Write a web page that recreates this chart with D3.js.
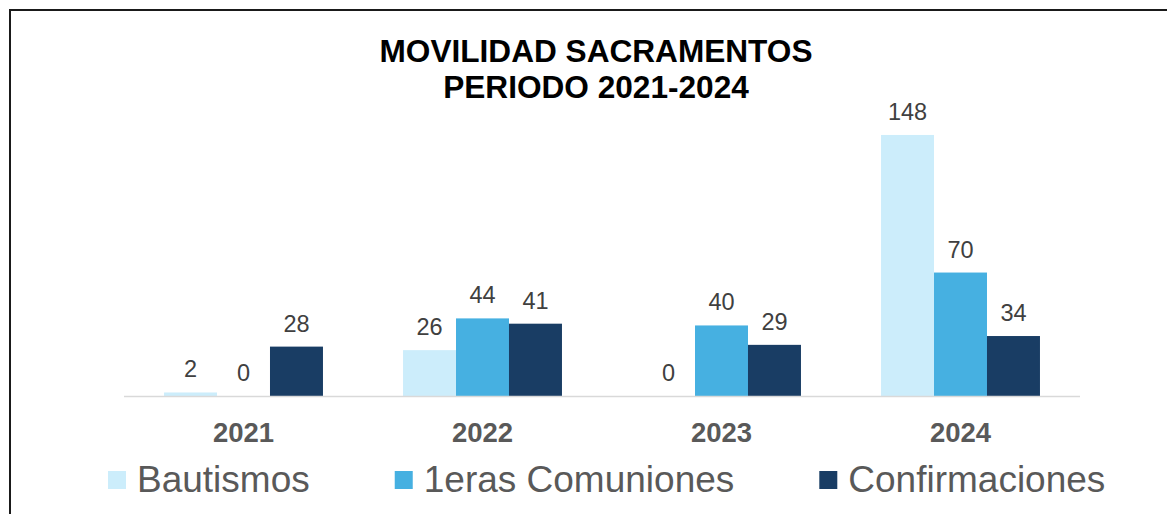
<!DOCTYPE html>
<html>
<head>
<meta charset="utf-8">
<script src="https://cdn.jsdelivr.net/npm/d3@7"></script>
<style>
  body { margin: 0; background: #fff; }
  svg { display: block; font-family: "Liberation Sans", Arial, sans-serif; }
</style>
</head>
<body>
<div id="chart"></div>
<script>
// data
const years = ["2021", "2022", "2023", "2024"];
const seriesNames = ["Bautismos", "1eras Comuniones", "Confirmaciones"];
const bautismos = [2, 26, 0, 148];
const comuniones = [0, 44, 40, 70];
const confirmaciones = [28, 41, 29, 34];
const seriesColors = ["#ccedfb", "#46b0e1", "#193d64"];
const titleLines = ["MOVILIDAD SACRAMENTOS", "PERIODO 2021-2024"];

const width = 1167, height = 514;
const margin = {top: 114, right: 87, bottom: 118, left: 124};

const svg = d3.select("#chart").append("svg")
    .attr("width", width)
    .attr("height", height);

// frame (only left and top edges show in the crop)
svg.append("path")
    .attr("d", `M10,${height} L10,10 L${width},10`)
    .attr("fill", "none")
    .attr("stroke", "#1a1a1a")
    .attr("stroke-width", 2);

// title
svg.append("text")
    .attr("x", 597)
    .attr("y", 62)
    .attr("text-anchor", "middle")
    .style("font-size", "31.6px")
    .style("font-weight", "bold")
    .attr("fill", "#000")
    .selectAll("tspan")
    .data(titleLines)
    .enter().append("tspan")
    .attr("x", 596)
    .attr("dy", (d, i) => i === 0 ? 0 : 36)
    .text(d => d);

const x0 = d3.scaleBand()
    .domain(years)
    .range([margin.left, width - margin.right])
    .paddingInner(0.335)
    .paddingOuter(0.1675);

const x1 = d3.scaleBand()
    .domain(seriesNames)
    .range([0, x0.bandwidth()])
    .padding(0);

const y = d3.scaleLinear()
    .domain([0, 160])
    .range([height - margin.bottom, height - margin.bottom - 282.2]);

const rows = years.map((yr, i) => ({
    year: yr,
    values: [bautismos[i], comuniones[i], confirmaciones[i]]
}));

// bars
const groups = svg.append("g")
    .selectAll("g")
    .data(rows)
    .enter().append("g")
    .attr("transform", d => `translate(${x0(d.year)},0)`);

groups.selectAll("rect")
    .data(d => d.values.map((v, j) => ({name: seriesNames[j], value: v, color: seriesColors[j]})))
    .enter().append("rect")
    .attr("x", d => x1(d.name))
    .attr("y", d => y(d.value))
    .attr("width", x1.bandwidth())
    .attr("height", d => y(0) - y(d.value))
    .attr("fill", d => d.color);

// value labels
groups.selectAll("text")
    .data(d => d.values.map((v, j) => ({name: seriesNames[j], value: v})))
    .enter().append("text")
    .attr("x", d => x1(d.name) + x1.bandwidth() / 2)
    .attr("y", d => y(d.value) - 15)
    .attr("text-anchor", "middle")
    .style("font-size", "23.5px")
    .attr("fill", "#404040")
    .text(d => d.value);

// baseline axis
svg.append("line")
    .attr("x1", margin.left)
    .attr("x2", width - margin.right)
    .attr("y1", y(0) + 0.5)
    .attr("y2", y(0) + 0.5)
    .attr("stroke", "#d9d9d9")
    .attr("stroke-width", 1.5);

// category labels
svg.append("g")
    .selectAll("text")
    .data(years)
    .enter().append("text")
    .attr("x", d => x0(d) + x0.bandwidth() / 2)
    .attr("y", 442)
    .attr("text-anchor", "middle")
    .style("font-size", "27.5px")
    .style("font-weight", "bold")
    .attr("fill", "#595959")
    .text(d => d);

// legend
const legend = svg.append("g");
let lx = 108;
seriesNames.forEach((name, i) => {
    legend.append("rect")
        .attr("x", lx)
        .attr("y", 471)
        .attr("width", 18)
        .attr("height", 18)
        .attr("fill", seriesColors[i]);
    const t = legend.append("text")
        .attr("x", lx + 29)
        .attr("y", 492)
        .style("font-size", "37px")
        .attr("fill", "#595959")
        .text(name);
    lx += 29 + t.node().getComputedTextLength() + 85;
});
</script>
</body>
</html>
